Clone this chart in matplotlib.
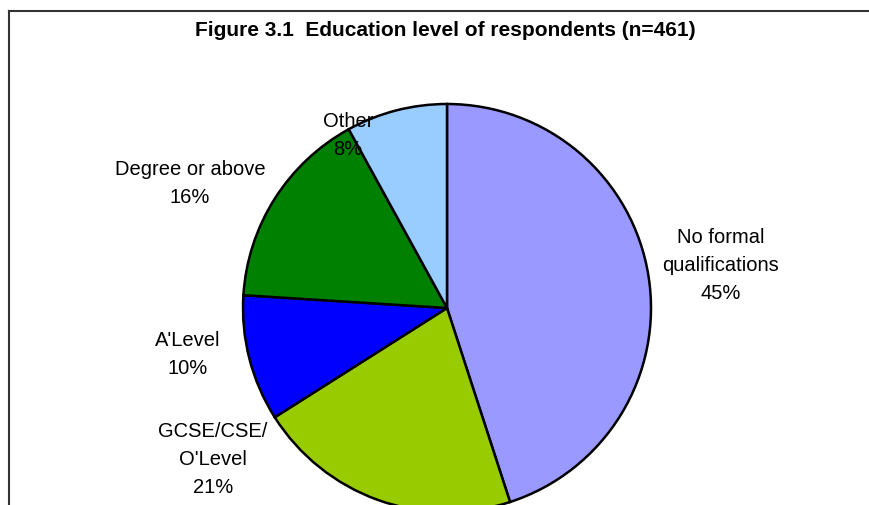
import matplotlib
matplotlib.use('Agg')
import matplotlib.pyplot as plt
from matplotlib.lines import Line2D

plt.rcParams['font.family'] = ['Liberation Sans', 'DejaVu Sans']

# education level shares, clockwise from 12 o'clock
labels = ["No formal\nqualifications", "GCSE/CSE/\nO'Level", "A'Level", "Degree or above", "Other"]
shares = [45, 21, 10, 16, 8]
colours = ['#9999FF', '#99CC00', '#0000FF', '#008000', '#99CCFF']

# label centres in pie-radius units
label_xy = [(1.343, 0.215), (-1.147, -0.74), (-1.27, -0.225), (-1.26, 0.615), (-0.485, 0.85)]

W, H = 869, 506
fig = plt.figure(figsize=(W / 100, H / 100), dpi=100)

# pie centre and radius in pixels
cx, cy, r = 447, 309, 204
ax = fig.add_axes([(cx - r) / W, (H - cy - r) / H, 2 * r / W, 2 * r / H])
ax.pie(shares, colors=colours, startangle=90, counterclock=False, radius=1,
       wedgeprops=dict(edgecolor='black', linewidth=1.8))
ax.set_xlim(-1, 1)
ax.set_ylim(-1, 1)
ax.set_aspect('auto')
ax.axis('off')

for lab, val, (x, y) in zip(labels, shares, label_xy):
    ax.text(x, y, f"{lab}\n{val}%", ha='center', va='center', fontsize=14.5,
            linespacing=1.6, clip_on=False)

fig.text(445 / W, 1 - 31 / H, "Figure 3.1  Education level of respondents (n=461)",
         ha='center', va='center', fontsize=15, fontweight='bold')

# chart frame: top and left edges
fig.add_artist(Line2D([9 / W, 1], [1 - 12 / H, 1 - 12 / H], color='#333333', linewidth=1.5,
                      transform=fig.transFigure))
fig.add_artist(Line2D([9 / W, 9 / W], [0, 1 - 12 / H], color='#333333', linewidth=1.5,
                      transform=fig.transFigure))

fig.savefig('out.png', dpi=100)
